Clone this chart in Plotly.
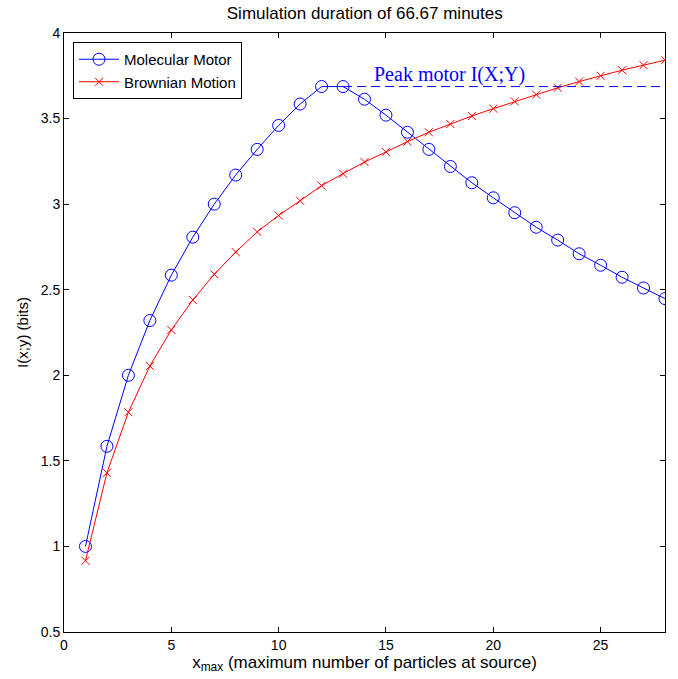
import plotly.graph_objects as go

x_vals = list(range(1, 29))
motor = [1.0, 1.585, 2.0, 2.32, 2.585, 2.807, 3.0, 3.17, 3.32, 3.46, 3.585, 3.687,
         3.687, 3.613, 3.52, 3.42, 3.32, 3.22, 3.125, 3.037, 2.95, 2.865, 2.79, 2.71,
         2.643, 2.573, 2.51, 2.448]
brownian = [0.916, 1.43, 1.784, 2.054, 2.265, 2.44, 2.59, 2.72, 2.838, 2.934, 3.02,
            3.108, 3.178, 3.246, 3.305, 3.365, 3.42, 3.468, 3.515, 3.558, 3.6, 3.64,
            3.68, 3.716, 3.75, 3.783, 3.812, 3.841]
peak_x = [13, 28]
peak_label = "Peak motor I(X;Y)"
title = "Simulation duration of 66.67 minutes"
x_title = "x<sub>max</sub> (maximum number of particles at source)"
y_title = "I(x;y) (bits)"
x_ticks = [0, 5, 10, 15, 20, 25]
y_ticks = [0.5, 1, 1.5, 2, 2.5, 3, 3.5, 4]

peak_val = max(motor)

fig = go.Figure()
fig.add_trace(go.Scatter(
    x=x_vals, y=motor, mode="lines+markers", name="Molecular Motor",
    line=dict(color="#0000ff", width=1),
    marker=dict(symbol="circle-open", size=12, color="#0000ff", line=dict(width=1)),
))
fig.add_trace(go.Scatter(
    x=x_vals, y=brownian, mode="lines+markers", name="Brownian Motion",
    line=dict(color="#ff0000", width=1),
    marker=dict(symbol="x-thin-open", size=8, color="#ff0000", line=dict(width=1, color="#ff0000")),
))
fig.add_trace(go.Scatter(
    x=peak_x, y=[peak_val, peak_val], mode="lines", showlegend=False,
    line=dict(color="#0000ff", width=1, dash="9px,5px"),
))
fig.add_annotation(
    x=14.35, y=peak_val, xanchor="left", yanchor="bottom", yshift=-1,
    text=peak_label, showarrow=False,
    font=dict(family="Liberation Serif, Times New Roman, serif", size=20, color="#0000ff"),
)

axis_common = dict(
    showline=True, linecolor="black", linewidth=1, mirror="ticks",
    ticks="inside", ticklen=5, tickcolor="black", showgrid=False, zeroline=False,
    tickfont=dict(size=14, color="black"),
)
fig.update_xaxes(range=[0, 28], tickvals=x_ticks, title=dict(text=x_title, standoff=1,
                 font=dict(size=17, color="black")), **axis_common)
fig.update_yaxes(range=[0.5, 4], tickvals=y_ticks, title=dict(text=y_title, standoff=8,
                 font=dict(size=15, color="black")), **axis_common)

fig.update_layout(
    width=678, height=679,
    margin=dict(l=64, r=13, t=33, b=47),
    plot_bgcolor="white", paper_bgcolor="white",
    font=dict(family="Liberation Sans, Arial, sans-serif", size=14, color="black"),
    title=dict(text=title, x=0.538, xanchor="center", y=0.99, yanchor="top",
               font=dict(size=17, color="black")),
    legend=dict(x=0.015, y=0.985, xanchor="left", yanchor="top",
                bgcolor="white", bordercolor="black", borderwidth=1,
                font=dict(size=15, color="black"), tracegroupgap=0, itemwidth=40),
)

fig.write_html("out.html")
